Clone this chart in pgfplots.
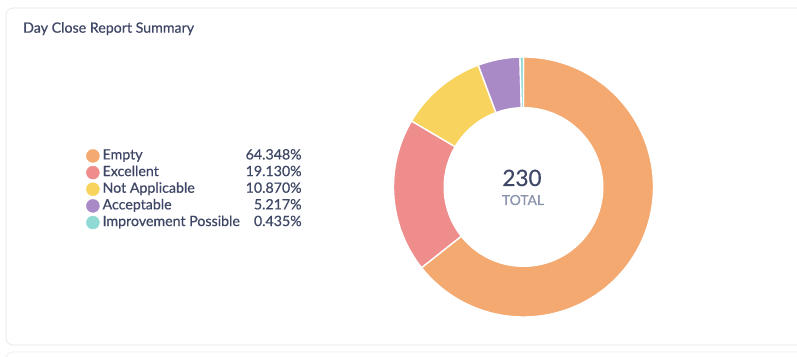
\documentclass[border=0pt]{standalone}
\usepackage{pgfplots}
\pgfplotsset{compat=1.18}
\usepackage{fontspec}
\setmainfont{Lato}[FakeBold=0.5]
\newfontfamily\med{Lato}[FakeBold=0.5]
\definecolor{cEmpty}{HTML}{F3A96F}
\definecolor{cExc}{HTML}{EF8C8C}
\definecolor{cNA}{HTML}{F8D35E}
\definecolor{cAcc}{HTML}{A98AC7}
\definecolor{cImp}{HTML}{90DAD5}
\definecolor{txt}{HTML}{3F4766}
\definecolor{sub}{HTML}{8A93AE}
% slice: cumulative count before, cumulative count after (total 230), colour
\newcommand\slice[3]{%
  \addplot[fill=#3, draw=white, line width=1.4bp, domain={90-360*#2/230}:{90-360*#1/230}, samples=150, forget plot]
    ({cos(x)},{sin(x)}) -- (axis cs:0,0) -- cycle;}
\begin{document}
\begin{tikzpicture}
\useasboundingbox (0,0) rectangle (797bp,357bp);
\fill[white] (0,0) rectangle (797bp,357bp);
% card
\draw[rounded corners=7bp, draw=black!9, line width=0.8bp, fill=white] (6bp,349bp) rectangle (815bp,12bp);
\draw[rounded corners=7bp, draw=black!6, line width=0.8bp] (6bp,5bp) rectangle (815bp,-30bp);
\node[anchor=base west, inner sep=0, font=\med\fontsize{14.2bp}{17bp}\selectfont, text=txt] at (23bp,324.3bp) {Day Close Report Summary};
\begin{axis}[
  at={(523.5bp,170bp)}, anchor=center,
  scale only axis, width=260bp, height=260bp,
  xmin=-1, xmax=1, ymin=-1, ymax=1,
  hide axis, clip=false,
  legend image code/.code={\fill[#1] (6.5bp,0bp) circle (6.5bp);},
  legend style={at={(-1.1827,0.646)}, anchor=north west, draw=none, fill=none,
    inner sep=0pt, row sep=3.25bp, column sep=3bp,
    font=\med\fontsize{14.2bp}{17bp}\selectfont, text=txt,
    nodes={inner sep=0pt, text height=10bp, text depth=3bp}},
  legend cell align=left,
]
\slice{0}{148}{cEmpty}
\slice{148}{192}{cExc}
\slice{192}{217}{cNA}
\slice{217}{229}{cAcc}
\slice{229}{230}{cImp}
\addlegendimage{cEmpty}
\addlegendentry{\makebox[199bp]{Empty\hfill 64.348\%}}
\addlegendimage{cExc}
\addlegendentry{\makebox[199bp]{Excellent\hfill 19.130\%}}
\addlegendimage{cNA}
\addlegendentry{\makebox[199bp]{Not Applicable\hfill 10.870\%}}
\addlegendimage{cAcc}
\addlegendentry{\makebox[199bp]{Acceptable\hfill 5.217\%}}
\addlegendimage{cImp}
\addlegendentry{\makebox[199bp]{Improvement Possible\hfill 0.435\%}}
\end{axis}
\fill[white] (523.5bp,170bp) circle (80bp);
\node[anchor=base, inner sep=0, font=\med\fontsize{22.5bp}{26bp}\selectfont, text=txt] at (522bp,171bp) {230};
\node[anchor=base, inner sep=0, font=\med\fontsize{13.8bp}{16bp}\selectfont, text=sub] at (523bp,152bp) {TOTAL};
\end{tikzpicture}
\end{document}
